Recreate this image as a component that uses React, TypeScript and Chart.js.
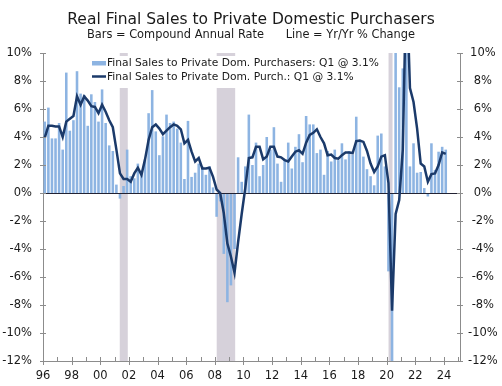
import React, { useEffect, useRef } from 'react';
import { Chart, registerables } from 'chart.js';

Chart.register(...registerables);

const TITLE = 'Real Final Sales to Private Domestic Purchasers';
const SUBTITLE = 'Bars = Compound Annual Rate      Line = Yr/Yr % Change';
const BAR_LABEL = 'Final Sales to Private Dom. Purchasers: Q1 @ 3.1%';
const LINE_LABEL = 'Final Sales to Private Dom. Purch.: Q1 @ 3.1%';

const FIRST_YEAR = 1996;
const quarters: string[] = Array.from({ length: 113 }, (_, i) => `${FIRST_YEAR + Math.floor(i / 4)}Q${(i % 4) + 1}`);

// Bars: compound annual rate, quarterly
const barValues: number[] = [
  5.1, 6.1, 3.9, 3.9,
  5.0, 3.1, 8.6, 4.45,
  5.2, 8.7, 7.1, 7.0,
  4.8, 7.05, 6.5, 5.1,
  7.4, 5.0, 3.4, 3.0,
  0.6, -0.4, 0.5, 3.1,
  1.2, 1.05, 2.1, 1.4,
  2.35, 5.7, 7.35, 4.4,
  2.7, 4.05, 5.6, 5.0,
  5.1, 4.6, 3.6, 1.0,
  5.15, 1.15, 1.45, 2.1,
  1.9, 1.3, 1.9, 0.4,
  -1.7, -0.6, -4.35, -7.8,
  -6.6, -4.0, 2.55, 0.8,
  1.9, 5.6, 2.0, 3.6,
  1.2, 2.0, 4.0, 3.1,
  4.7, 2.1, 0.8, 2.4,
  3.6, 1.75, 3.3, 4.2,
  2.2, 5.5, 4.9, 4.9,
  2.85, 3.1, 1.3, 3.0,
  2.25, 3.1, 2.35, 3.55,
  2.4, 3.0, 2.75, 5.45,
  3.8, 2.6, 1.7, 1.2,
  0.55, 4.1, 4.25, 1.9,
  -5.6, -30.0, 38.0, 7.55,
  8.9, 11.5, 1.9, 3.55,
  1.45, 1.5, 0.35, -0.25,
  3.55, 1.65, 2.95, 3.3,
  3.1,
];

// Line: year-over-year % change, quarterly
const lineValues: number[] = [
  3.95, 4.8, 4.8, 4.75,
  4.75, 4.0, 5.1, 5.3,
  5.5, 6.9, 6.3, 6.9,
  6.6, 6.2, 6.15, 5.7,
  6.3, 5.8, 5.2, 4.7,
  3.1, 1.4, 1.0, 1.0,
  0.8, 1.4, 1.8, 1.3,
  2.4, 3.8, 4.7, 4.9,
  4.6, 4.2, 4.45, 4.7,
  4.9, 4.8, 4.55, 3.55,
  3.8, 2.95, 2.25, 2.5,
  1.75, 1.75, 1.8, 1.15,
  0.25, 0.0, -1.45, -3.6,
  -4.55, -5.7, -3.5, -1.5,
  0.35, 2.5, 2.55, 3.3,
  3.3, 2.4, 2.6, 3.3,
  3.3, 2.6, 2.55, 2.35,
  2.25, 2.6, 2.95, 3.05,
  2.8, 3.6, 4.15, 4.3,
  4.55, 4.0, 3.55, 2.7,
  2.75, 2.5, 2.45, 2.7,
  2.9, 2.9, 2.85, 3.7,
  3.75, 3.65, 3.0, 2.1,
  1.5, 1.9, 2.6, 2.7,
  0.7, -8.4, -1.5, -0.5,
  3.1, 15.5, 7.5, 6.5,
  4.6, 2.1, 1.9, 0.8,
  1.35, 1.4, 2.0, 2.9,
  2.8,
];

const recessionStart: number[] = [2001.36, 2008.13, 2020.13];
const recessionEnd: number[] = [2001.92, 2009.42, 2020.41];

const xTickYears: number[] = [1996, 1998, 2000, 2002, 2004, 2006, 2008, 2010, 2012, 2014, 2016, 2018, 2020, 2022, 2024];
const xTickLabels: string[] = ['96', '98', '00', '02', '04', '06', '08', '10', '12', '14', '16', '18', '20', '22', '24'];
const yTickValues: number[] = [-12, -10, -8, -6, -4, -2, 0, 2, 4, 6, 8, 10];

const X_MIN = 1996;
const X_MAX = 2025.12;

const FONT = '"DejaVu Sans", Verdana, sans-serif';
const BAR_COLOR = '#8DB4E2';
const LINE_COLOR = '#1B3A6A';
const BAND_COLOR = '#D6D1DA';
const AXIS_COLOR = '#8C8C8C';
const TEXT_COLOR = '#1A1A1A';

const quarterToX = (q: string) => {
  const y = parseInt(q.slice(0, 4), 10);
  const n = parseInt(q.slice(5), 10);
  return y + (n - 1) / 4 + 0.125;
};

const decorPlugin = {
  id: 'decor',
  beforeDatasetsDraw(chart: any) {
    const { ctx, chartArea, scales } = chart;
    ctx.save();
    ctx.fillStyle = BAND_COLOR;
    for (let i = 0; i < recessionStart.length; i++) {
      const x1 = scales.x.getPixelForValue(recessionStart[i]);
      const x2 = scales.x.getPixelForValue(recessionEnd[i]);
      ctx.fillRect(x1, chartArea.top, x2 - x1, chartArea.bottom - chartArea.top);
    }
    ctx.restore();
  },
  afterDatasetDraw(chart: any, args: any) {
    if (args.meta.type !== 'bar') return;
    const { ctx, chartArea, scales } = chart;
    const y0 = Math.round(scales.y.getPixelForValue(0)) + 0.5;
    ctx.save();
    ctx.strokeStyle = '#222233';
    ctx.lineWidth = 1;
    ctx.beginPath();
    ctx.moveTo(chartArea.left, y0);
    ctx.lineTo(chartArea.right, y0);
    ctx.stroke();
    ctx.restore();
  },
  afterDraw(chart: any) {
    const { ctx, chartArea, scales, width } = chart;
    ctx.save();
    // Title and subtitle
    ctx.fillStyle = TEXT_COLOR;
    ctx.textAlign = 'center';
    ctx.textBaseline = 'alphabetic';
    ctx.font = `15.5px ${FONT}`;
    ctx.fillText(TITLE, width / 2, 24);
    ctx.font = `11.4px ${FONT}`;
    ctx.fillText(SUBTITLE, width / 2, 38);

    // Legend box
    ctx.fillStyle = '#FFFFFF';
    ctx.fillRect(88, 56, 298, 32);
    ctx.fillStyle = BAR_COLOR;
    ctx.fillRect(92, 61, 14, 4.5);
    ctx.strokeStyle = LINE_COLOR;
    ctx.lineWidth = 2.5;
    ctx.beginPath();
    ctx.moveTo(92, 76.5);
    ctx.lineTo(106, 76.5);
    ctx.stroke();
    ctx.fillStyle = TEXT_COLOR;
    ctx.textAlign = 'left';
    ctx.textBaseline = 'middle';
    ctx.font = `10.7px ${FONT}`;
    ctx.fillText(BAR_LABEL, 107, 63.5);
    ctx.fillText(LINE_LABEL, 107, 76.8);

    // Axis tick marks
    ctx.strokeStyle = AXIS_COLOR;
    ctx.lineWidth = 1;
    ctx.beginPath();
    for (const v of yTickValues) {
      const y = Math.round(scales.y.getPixelForValue(v)) + 0.5;
      ctx.moveTo(chartArea.left - 3, y);
      ctx.lineTo(chartArea.left + 3, y);
      ctx.moveTo(chartArea.right - 3, y);
      ctx.lineTo(chartArea.right + 3, y);
    }
    for (let yr = X_MIN; yr <= X_MAX; yr++) {
      const x = Math.round(scales.x.getPixelForValue(yr)) + 0.5;
      const major = xTickYears.indexOf(yr) >= 0;
      ctx.moveTo(x, chartArea.bottom - 4);
      ctx.lineTo(x, chartArea.bottom + (major ? 4 : 0));
    }
    ctx.stroke();
    ctx.restore();
  },
};

export default function App() {
  const canvasRef = useRef<HTMLCanvasElement | null>(null);

  useEffect(() => {
    const canvas = canvasRef.current;
    if (!canvas) return;
    const tickFont = { family: FONT, size: 11.5 };
    const chart = new Chart(canvas, {
      type: 'bar',
      data: {
        datasets: [
          {
            type: 'line',
            label: LINE_LABEL,
            data: quarters.map((q, i) => ({ x: quarterToX(q), y: lineValues[i] })),
            borderColor: LINE_COLOR,
            borderWidth: 2.5,
            pointRadius: 0,
            tension: 0,
            order: 0,
            clip: 0,
          } as any,
          {
            type: 'bar',
            label: BAR_LABEL,
            data: quarters.map((q, i) => ({ x: quarterToX(q), y: barValues[i] })),
            backgroundColor: BAR_COLOR,
            barPercentage: 0.72,
            categoryPercentage: 1,
            order: 1,
            clip: 0,
          } as any,
        ],
      },
      options: {
        animation: false,
        responsive: false,
        devicePixelRatio: 1,
        layout: { padding: { top: 53, left: 0, right: 0, bottom: 0 } },
        plugins: {
          legend: { display: false },
          title: { display: false },
          tooltip: { enabled: false },
        },
        scales: {
          x: {
            type: 'linear',
            position: 'bottom',
            min: X_MIN,
            max: X_MAX,
            offset: false,
            grid: { display: false, drawTicks: false },
            border: { display: true, color: AXIS_COLOR, width: 1 },
            ticks: {
              stepSize: 1,
              includeBounds: false,
              autoSkip: false,
              maxRotation: 0,
              padding: 8,
              font: tickFont,
              color: TEXT_COLOR,
              callback: (v: any) => {
                const k = xTickYears.indexOf(Number(v));
                return k >= 0 ? xTickLabels[k] : '';
              },
            },
            afterFit: (s: any) => {
              s.height = 25;
            },
          },
          y: {
            position: 'left',
            min: -12,
            max: 10,
            beginAtZero: false,
            grid: { display: false, drawTicks: false },
            border: { display: true, color: AXIS_COLOR, width: 1 },
            ticks: {
              stepSize: 2,
              padding: 11,
              font: tickFont,
              color: TEXT_COLOR,
              callback: (v: any) => `${v}%`,
            },
            afterFit: (s: any) => {
              s.width = 43;
            },
          },
          y2: {
            position: 'right',
            min: -12,
            max: 10,
            grid: { display: false, drawTicks: false },
            border: { display: true, color: AXIS_COLOR, width: 1 },
            ticks: {
              stepSize: 2,
              padding: 8,
              crossAlign: 'center',
              font: tickFont,
              color: TEXT_COLOR,
              callback: (v: any) => `${v}%`,
            },
            afterFit: (s: any) => {
              s.width = 42;
            },
          },
        },
      } as any,
      plugins: [decorPlugin],
    });
    return () => chart.destroy();
  }, []);

  return (
    <div style={{ position: 'fixed', left: 0, top: 0, width: 502, height: 386, background: '#fff' }}>
      <canvas ref={canvasRef} width={502} height={386} style={{ display: 'block', width: 502, height: 386 }} />
    </div>
  );
}
